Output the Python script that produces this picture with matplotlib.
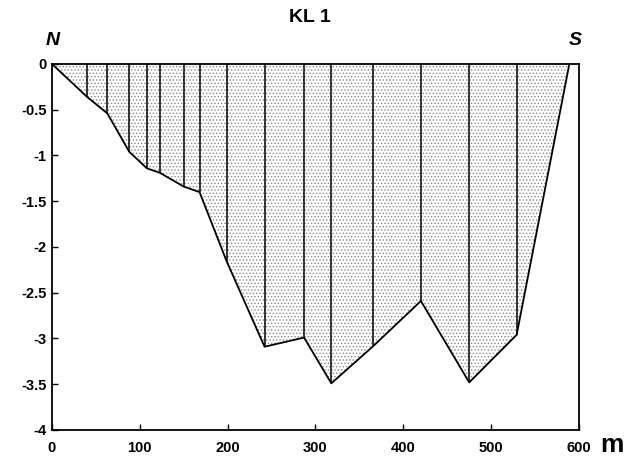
import numpy as np
import matplotlib
matplotlib.use("Agg")
import matplotlib.pyplot as plt

plt.rcParams['font.family'] = ['Liberation Sans', 'DejaVu Sans']
plt.rcParams['font.weight'] = 'bold'
plt.rcParams['axes.unicode_minus'] = False
plt.rcParams['hatch.color'] = '#666666'
plt.rcParams['hatch.linewidth'] = 0.6

# survey profile KL 1: distance along the line (m) and depth (m)
dist = [0, 40, 63, 88, 108, 123, 150, 168, 199, 242, 287, 318, 365, 420, 475, 529, 589]
depth = [0, -0.36, -0.54, -0.96, -1.14, -1.19, -1.34, -1.40, -2.16, -3.09, -2.99,
         -3.49, -3.09, -2.59, -3.48, -2.96, 0]

xticks = [0, 100, 200, 300, 400, 500, 600]
yticks = [0, -0.5, -1, -1.5, -2, -2.5, -3, -3.5, -4]
ytick_labels = ['0', '-0.5', '-1', '-1.5', '-2', '-2.5', '-3', '-3.5', '-4']

fig = plt.figure(figsize=(6.24, 4.59), dpi=100)
ax = fig.add_axes([0.0833, 0.0632, 0.8446, 0.7974])

# stippled water body
ax.fill_between(dist, depth, 0, facecolor='white', edgecolor='#888888',
                hatch='.....', linewidth=0)
ax.plot(dist, depth, color='black', lw=1.3)

# vertical lines at each sounding station
ax.vlines(dist[1:-1], depth[1:-1], 0, color='black', lw=1.1)

ax.set_xlim(0, 600)
ax.set_ylim(-4, 0)
ax.set_xticks(xticks)
ax.set_yticks(yticks)
ax.set_yticklabels(ytick_labels)
ax.tick_params(direction='in', length=4, width=1, labelsize=10.5)
ax.tick_params(axis='x', pad=8)
ax.tick_params(axis='y', pad=4)
for s in ax.spines.values():
    s.set_linewidth(1.3)

fig.text(0.497, 0.962, 'KL 1', ha='center', va='center', fontsize=14, fontweight='bold')
fig.text(0.085, 0.912, 'N', ha='center', va='center', fontsize=14,
         fontweight='bold', style='italic')
fig.text(0.922, 0.912, 'S', ha='center', va='center', fontsize=14,
         fontweight='bold', style='italic')
fig.text(0.981, 0.016, 'm', ha='center', va='baseline', fontsize=19, fontweight='bold')

fig.savefig('out.png', dpi=100)
